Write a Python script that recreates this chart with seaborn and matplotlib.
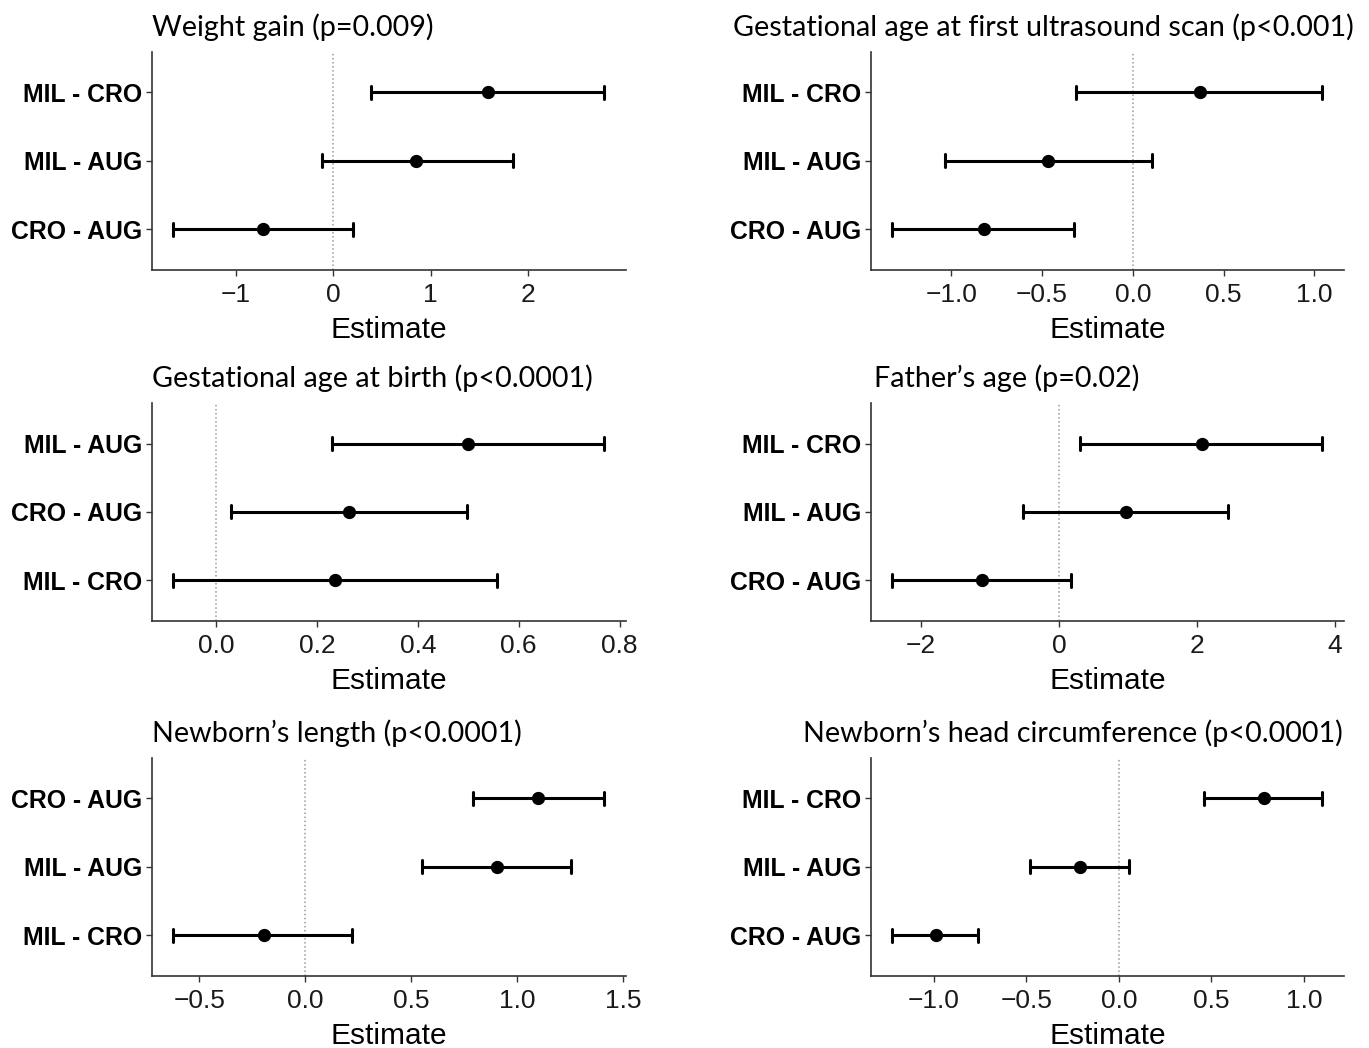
import numpy as np
import pandas as pd
import matplotlib
matplotlib.use("Agg")
import matplotlib.pyplot as plt
import seaborn as sns

# ---------------- data ----------------
wg_title = "Weight gain (p=0.009)"
wg_cmp = ["MIL - CRO", "MIL - AUG", "CRO - AUG"]
wg_est = [1.59, 0.85, -0.72]
wg_low = [0.39, -0.12, -1.64]
wg_high = [2.78, 1.84, 0.20]
wg_ticks = [-1, 0, 1, 2]
wg_ticklabels = ["\u22121", "0", "1", "2"]

gus_title = "Gestational age at first ultrasound scan (p<0.001)"
gus_cmp = ["MIL - CRO", "MIL - AUG", "CRO - AUG"]
gus_est = [0.37, -0.47, -0.82]
gus_low = [-0.315, -1.035, -1.325]
gus_high = [1.044, 0.104, -0.326]
gus_ticks = [-1.0, -0.5, 0.0, 0.5, 1.0]
gus_ticklabels = ["\u22121.0", "\u22120.5", "0.0", "0.5", "1.0"]

gab_title = "Gestational age at birth (p<0.0001)"
gab_cmp = ["MIL - AUG", "CRO - AUG", "MIL - CRO"]
gab_est = [0.50, 0.263, 0.235]
gab_low = [0.229, 0.029, -0.085]
gab_high = [0.770, 0.497, 0.556]
gab_ticks = [0.0, 0.2, 0.4, 0.6, 0.8]
gab_ticklabels = ["0.0", "0.2", "0.4", "0.6", "0.8"]

fa_title = "Father\u2019s age (p=0.02)"
fa_cmp = ["MIL - CRO", "MIL - AUG", "CRO - AUG"]
fa_est = [2.08, 0.97, -1.11]
fa_low = [0.31, -0.52, -2.415]
fa_high = [3.82, 2.45, 0.18]
fa_ticks = [-2, 0, 2, 4]
fa_ticklabels = ["\u22122", "0", "2", "4"]

nl_title = "Newborn\u2019s length (p<0.0001)"
nl_cmp = ["CRO - AUG", "MIL - AUG", "MIL - CRO"]
nl_est = [1.10, 0.904, -0.196]
nl_low = [0.794, 0.551, -0.623]
nl_high = [1.412, 1.255, 0.220]
nl_ticks = [-0.5, 0.0, 0.5, 1.0, 1.5]
nl_ticklabels = ["\u22120.5", "0.0", "0.5", "1.0", "1.5"]

hc_title = "Newborn\u2019s head circumference (p<0.0001)"
hc_cmp = ["MIL - CRO", "MIL - AUG", "CRO - AUG"]
hc_est = [0.782, -0.208, -0.99]
hc_low = [0.462, -0.478, -1.224]
hc_high = [1.100, 0.0575, -0.762]
hc_ticks = [-1.0, -0.5, 0.0, 0.5, 1.0]
hc_ticklabels = ["\u22121.0", "\u22120.5", "0.0", "0.5", "1.0"]

panels = [
    (wg_title, wg_cmp, wg_est, wg_low, wg_high, wg_ticks, wg_ticklabels),
    (gus_title, gus_cmp, gus_est, gus_low, gus_high, gus_ticks, gus_ticklabels),
    (gab_title, gab_cmp, gab_est, gab_low, gab_high, gab_ticks, gab_ticklabels),
    (fa_title, fa_cmp, fa_est, fa_low, fa_high, fa_ticks, fa_ticklabels),
    (nl_title, nl_cmp, nl_est, nl_low, nl_high, nl_ticks, nl_ticklabels),
    (hc_title, hc_cmp, hc_est, hc_low, hc_high, hc_ticks, hc_ticklabels),
]

# ---------------- layout ----------------
W, H = 1369, 1048
col_x = [151.7, 870.7]
col_w = [474.3, 473.3]
row_top = [51.5, 402.7, 757.5]
row_h = 218.5
title_x = [152, 733, 152, 874, 152, 803]
title_yc = [27, 378, 733]

sns.set_theme(style="ticks")
plt.rcParams['font.family'] = ['Liberation Sans', 'DejaVu Sans']

fig = plt.figure(figsize=(W / 100, H / 100), dpi=100)

for i, (title, cmp, est, low, high, ticks, ticklabels) in enumerate(panels):
    r, c = divmod(i, 2)
    left = col_x[c] / W
    bottom = 1 - (row_top[r] + row_h) / H
    ax = fig.add_axes([left, bottom, col_w[c] / W, row_h / H])

    df = pd.DataFrame({
        "cmp": np.repeat(cmp, 3),
        "val": np.column_stack([low, est, high]).ravel(),
    })
    ax.axvline(0, color="#9a9a9a", linestyle=":", linewidth=1.1, zorder=0)
    sns.pointplot(data=df, x="val", y="cmp", order=cmp, estimator="median",
                  errorbar=lambda v: (np.min(v), np.max(v)), capsize=0.19,
                  color="black", linestyle="none", marker="o", markersize=7.5,
                  err_kws={"linewidth": 2.2}, ax=ax)

    span = max(high) - min(low)
    ax.set_xlim(min(low) - 0.05 * span, max(high) + 0.05 * span)
    ax.set_ylim(len(cmp) - 1 + 0.6, -0.6)
    ax.set_xticks(ticks)
    ax.set_xticklabels(ticklabels, fontsize=19, color="#1a1a1a")
    ax.set_yticks(range(len(cmp)))
    ax.set_yticklabels(cmp, fontsize=17.8, fontweight="bold", color="black")
    ax.set_ylabel("")
    ax.set_xlabel("Estimate", fontsize=21.5, color="black", labelpad=7)
    sns.despine(ax=ax)
    for s in ("left", "bottom"):
        ax.spines[s].set_linewidth(1.2)
        ax.spines[s].set_color("#333333")
    ax.tick_params(axis="both", length=4, width=1, color="#333333")
    ax.tick_params(axis="x", pad=5)
    ax.tick_params(axis="y", pad=3)

    fig.text(title_x[i] / W, 1 - title_yc[r] / H, title, fontsize=20.7,
             family=["Lato", "DejaVu Sans"], ha="left", va="center", color="black")

fig.savefig("out.png", dpi=100, facecolor="white")
